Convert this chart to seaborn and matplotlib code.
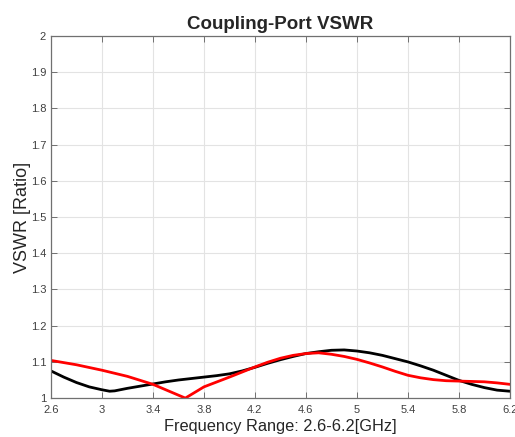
import numpy as np
import pandas as pd
import matplotlib
matplotlib.use("Agg")
import matplotlib.pyplot as plt
import seaborn as sns

# Black curve
freq_black = [2.6, 2.7, 2.8, 2.9, 3.0, 3.06, 3.1, 3.2, 3.3, 3.4, 3.5, 3.6, 3.7, 3.8, 3.9,
              4.0, 4.1, 4.2, 4.3, 4.4, 4.5, 4.6, 4.7, 4.8, 4.9, 5.0, 5.1, 5.2, 5.3, 5.4,
              5.5, 5.6, 5.7, 5.8, 5.9, 6.0, 6.1, 6.2]
vswr_black = [1.075, 1.058, 1.043, 1.031, 1.023, 1.019, 1.020, 1.027, 1.033, 1.039, 1.045,
              1.050, 1.054, 1.058, 1.062, 1.067, 1.075, 1.085, 1.096, 1.106, 1.115, 1.123,
              1.128, 1.132, 1.133, 1.130, 1.125, 1.118, 1.109, 1.100, 1.089, 1.077, 1.063,
              1.049, 1.038, 1.029, 1.022, 1.019]

# Red curve
freq_red = [2.6, 2.8, 3.0, 3.2, 3.4, 3.654, 3.8, 4.0, 4.2, 4.3, 4.4, 4.5, 4.6, 4.7, 4.8,
            4.9, 5.0, 5.1, 5.2, 5.3, 5.4, 5.5, 5.6, 5.7, 5.8, 5.9, 6.0, 6.1, 6.2]
vswr_red = [1.104, 1.092, 1.077, 1.060, 1.038, 1.000, 1.031, 1.058, 1.086, 1.099, 1.110,
            1.118, 1.123, 1.125, 1.121, 1.115, 1.107, 1.097, 1.086, 1.074, 1.063, 1.056,
            1.051, 1.048, 1.047, 1.046, 1.045, 1.042, 1.038]

x_ticks = np.round(np.arange(2.6, 6.21, 0.4), 1)
y_ticks = np.round(np.arange(1.0, 2.01, 0.1), 1)

sns.set_style("whitegrid")
plt.rcParams['font.family'] = ['Liberation Sans', 'DejaVu Sans']

fig = plt.figure(figsize=(5.15, 4.37), dpi=100)
ax = fig.add_axes([0.099, 0.089, 0.891, 0.829])

sns.lineplot(x=freq_black, y=vswr_black, color='black', linewidth=2, ax=ax)
sns.lineplot(x=freq_red, y=vswr_red, color='red', linewidth=2, ax=ax)

ax.set_xlim(2.6, 6.2)
ax.set_ylim(1, 2)
ax.set_xticks(x_ticks)
ax.set_xticklabels([f"{v:g}" for v in x_ticks])
ax.set_yticks(y_ticks)
ax.set_yticklabels([f"{v:g}" for v in y_ticks])
ax.grid(True, color='#e3e3e3', linewidth=0.8)
for s in ax.spines.values():
    s.set_visible(True)
    s.set_color('#707070')
    s.set_linewidth(0.9)
ax.tick_params(direction='in', length=4, width=0.7, color='#707070', labelcolor='#404040',
               labelsize=8, top=True, right=True, bottom=True, left=True)
ax.tick_params(axis='x', pad=5)

ax.set_title('Coupling-Port VSWR', fontsize=13.5, fontweight='bold', pad=5)
ax.set_xlabel('Frequency Range: 2.6-6.2[GHz]', fontsize=11.8, color='#262626', labelpad=3)
ax.set_ylabel('VSWR [Ratio]', fontsize=13, color='#262626', labelpad=0)

fig.savefig('out.png', dpi=100)
